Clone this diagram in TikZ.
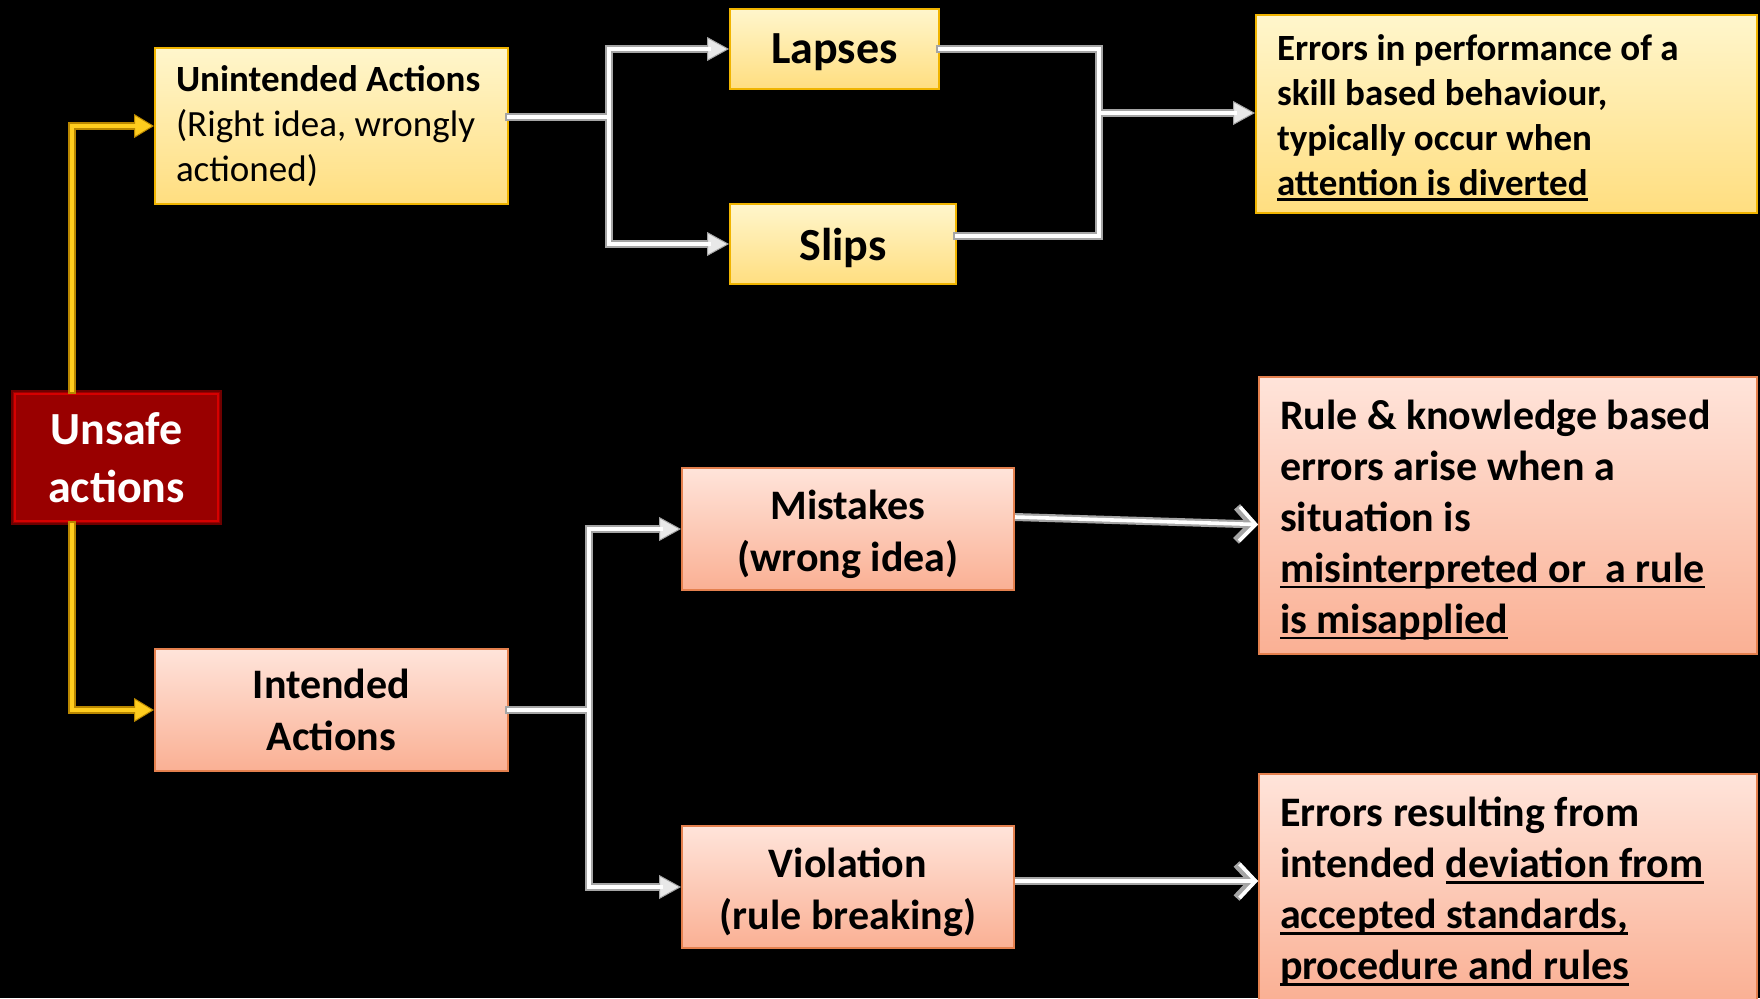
\documentclass[tikz,border=0pt]{standalone}
\usepackage{fontspec}
\setmainfont{Carlito}
\usetikzlibrary{arrows.meta,calc}
\definecolor{ybord}{RGB}{240,180,0}
\definecolor{ytop}{RGB}{255,246,204}
\definecolor{ybot}{RGB}{255,222,128}
\definecolor{sbord}{RGB}{228,128,78}
\definecolor{stop}{RGB}{255,228,218}
\definecolor{sbot}{RGB}{250,176,148}
\definecolor{dred}{RGB}{153,0,0}
\definecolor{dredb}{RGB}{110,0,0}
\definecolor{pipegray}{RGB}{165,165,165}
\definecolor{tipfill}{RGB}{232,232,232}
\definecolor{goldD}{RGB}{185,135,0}
\definecolor{goldL}{RGB}{255,205,30}
\newcommand\myul[1]{\leavevmode\setbox0\hbox{#1}\rlap{\rule[-6pt]{\wd0}{2.6pt}}\box0}
\newcommand\lift[1]{\rule{0pt}{#1}}
\tikzset{
  ybox/.style={draw=ybord, line width=2pt, top color=ytop, bottom color=ybot, inner sep=0pt},
  sbox/.style={draw=sbord, line width=2pt, top color=stop, bottom color=sbot, inner sep=0pt},
  pipeout/.style={draw=pipegray, line width=8pt, line cap=rect},
  pipein/.style={draw=white, line width=3.6pt, line cap=rect},
  stip/.style={-{Triangle[length=22pt,width=24pt,fill=tipfill,color=pipegray,line width=1pt]}},
  chev/.style={-{Straight Barb[length=16pt,width=34pt]}},
  goldout/.style={draw=goldD, line width=8pt, line cap=rect},
  goldin/.style={draw=goldL, line width=3.6pt, line cap=rect},
  gtip/.style={-{Triangle[length=20pt,width=24pt,fill=goldL,color=goldD,line width=1pt]}}
}
\begin{document}
\begin{tikzpicture}[x=1pt,y=-1pt]
\fill[black] (0,0) rectangle (1760,998);
\useasboundingbox (0,0) rectangle (1760,998);

% nodes
\node[draw=dredb, fill=dred, line width=1.5pt, minimum width=209pt, minimum height=133pt, inner sep=0pt,
      text=white, align=center, font=\fontsize{46}{58}\selectfont\bfseries] (unsafe) at (116.5,457.5) {Unsafe\\actions};
\draw[red!60!dred, line width=2pt] ([shift={(4pt,4pt)}]unsafe.south west) rectangle ([shift={(-4pt,-4pt)}]unsafe.north east);

\node[ybox, minimum width=353pt, minimum height=156pt, text width=311pt, align=flush left,
      font=\fontsize{37}{45}\selectfont] (unint) at (331.5,126) {\textbf{Unintended Actions}\\(Right idea, wrongly\\actioned)};
\node[sbox, minimum width=353pt, minimum height=122pt, align=center,
      font=\fontsize{42}{52}\selectfont\bfseries] (inten) at (331.5,710) {Intended\\Actions};

\node[ybox, minimum width=209pt, minimum height=80pt, text depth=0pt, font=\fontsize{46}{56}\selectfont\bfseries] (lapses) at (834.5,49) {Lapses};
\node[ybox, minimum width=226pt, minimum height=80pt, text depth=0pt, font=\fontsize{46}{56}\selectfont\bfseries] (slips) at (843,244) {Slips};

\node[sbox, minimum width=332pt, minimum height=122pt, align=center,
      font=\fontsize{42}{52}\selectfont\bfseries] (mist) at (848,529) {\lift{40pt}Mistakes\\(wrong idea)};
\node[sbox, minimum width=332pt, minimum height=122pt, align=center,
      font=\fontsize{42}{52}\selectfont\bfseries] (viol) at (848,887) {\lift{40pt}Violation\\(rule breaking)};

\node[ybox, minimum width=501pt, minimum height=198pt, text width=459pt, align=flush left,
      font=\fontsize{37}{45}\selectfont\bfseries] (err1) at (1506.5,114)
      {\lift{33pt}Errors in performance of a\\skill based behaviour,\\typically occur when\\\myul{attention is diverted}};
\node[sbox, minimum width=498pt, minimum height=277pt, text width=456pt, align=flush left,
      font=\fontsize{42}{51}\selectfont\bfseries] (rule) at (1508,515.5)
      {\lift{38pt}Rule \& knowledge based\\errors arise when a\\situation is\\\myul{misinterpreted or\ \ a rule}\\\myul{is misapplied}};
\node[sbox, minimum width=498pt, minimum height=226pt, text width=456pt, align=flush left,
      font=\fontsize{42}{51}\selectfont\bfseries] (err2) at (1508,887)
      {\lift{39pt}Errors resulting from\\intended \myul{deviation from}\\\myul{accepted standards,}\\\myul{procedure and rules}};

% junction coordinates
\coordinate (j1) at (609,117);
\coordinate (j2) at (1099,113);
\coordinate (j3) at (589,710);
\coordinate (gu) at ($(unsafe.north west)!0.29!(unsafe.north east)$);
\coordinate (gd) at ($(unsafe.south west)!0.29!(unsafe.south east)$);
\coordinate (mend) at ([yshift=-9pt]rule.west);

% gold connectors
\draw[goldout,gtip] (gu) |- (unint.west);
\draw[goldout,gtip] (gd) |- (inten.west);
\draw[goldin,shorten >=18pt] (gu) |- (unint.west);
\draw[goldin,shorten >=18pt] (gd) |- (inten.west);

% silver connectors: outer
\draw[pipeout] ([yshift=9pt]unint.east) -- (j1);
\draw[pipeout,stip] (j1) |- (lapses.west);
\draw[pipeout,stip] (j1) |- (slips.west);
\draw[pipeout] (lapses.east) -| (j2);
\draw[pipeout] ([yshift=8pt]slips.east) -| (j2);
\draw[pipeout,stip] (j2) -- (j2 -| err1.west);
\draw[pipeout] (inten.east) -- (j3);
\draw[pipeout,stip] (j3) |- (mist.west);
\draw[pipeout,stip] (j3) |- (viol.west);
\draw[pipeout,chev,line cap=butt] ([yshift=12pt]mist.east) -- (mend);
\draw[pipeout,chev,line cap=butt] ([yshift=6pt]viol.east) -- ([yshift=6pt]viol.east -| err2.west);
% silver connectors: inner
\draw[pipein] ([yshift=9pt]unint.east) -- (j1);
\draw[pipein,shorten >=20pt] (j1) |- (lapses.west);
\draw[pipein,shorten >=20pt] (j1) |- (slips.west);
\draw[pipein] (lapses.east) -| (j2);
\draw[pipein] ([yshift=8pt]slips.east) -| (j2);
\draw[pipein,shorten >=20pt] (j2) -- (j2 -| err1.west);
\draw[pipein] (inten.east) -- (j3);
\draw[pipein,shorten >=20pt] (j3) |- (mist.west);
\draw[pipein,shorten >=20pt] (j3) |- (viol.west);
\draw[pipein,chev,line cap=butt] ([yshift=12pt]mist.east) -- (mend);
\draw[pipein,chev,line cap=butt] ([yshift=6pt]viol.east) -- ([yshift=6pt]viol.east -| err2.west);
\end{tikzpicture}
\end{document}
